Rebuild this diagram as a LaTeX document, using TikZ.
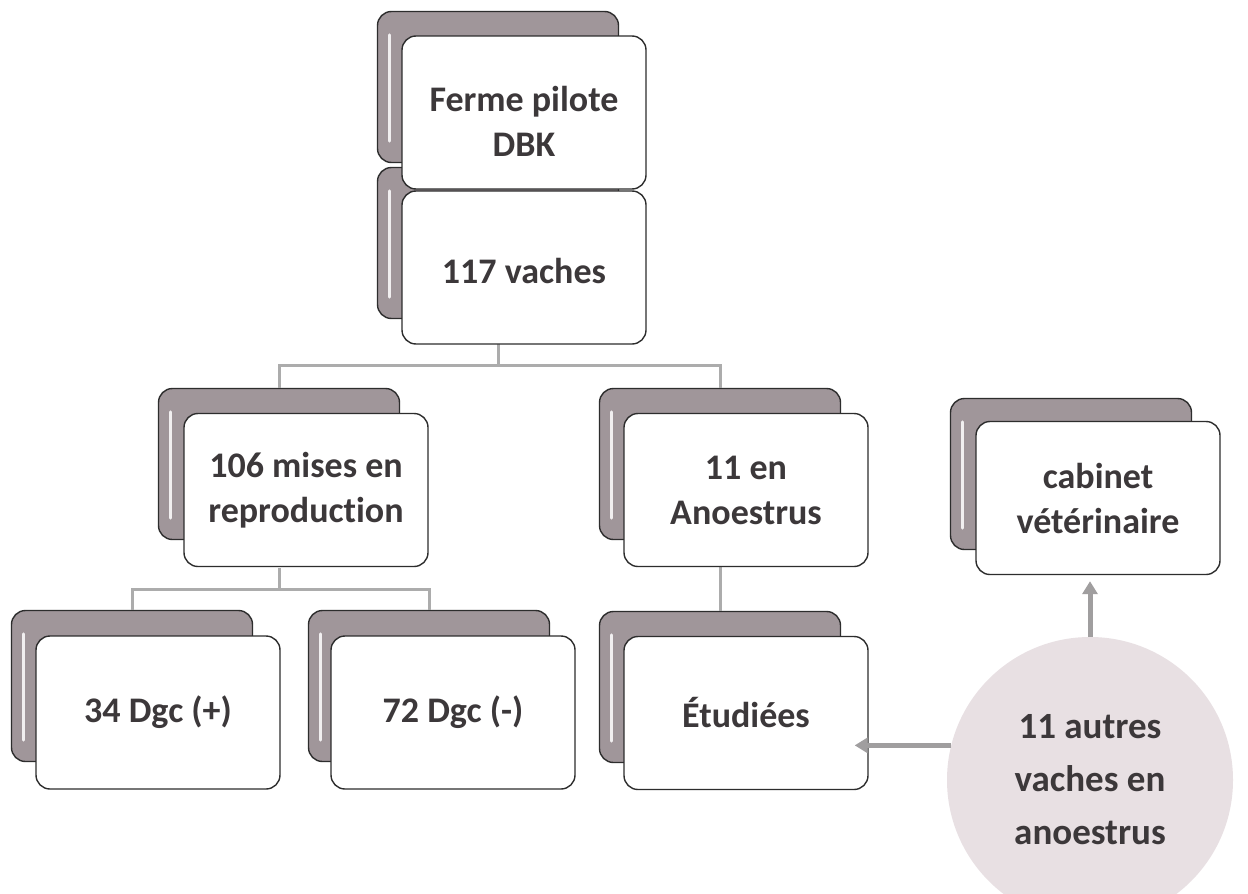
\documentclass[tikz,border=0pt]{standalone}
\usepackage{fontspec}
\setmainfont{Carlito}[Ligatures=NoCommon]
\usetikzlibrary{arrows.meta}
\definecolor{txt}{RGB}{60,56,58}
\definecolor{backfill}{RGB}{160,150,154}
\definecolor{edge}{RGB}{45,45,45}
\definecolor{connc}{RGB}{172,172,172}
\definecolor{arrc}{RGB}{160,158,159}
\definecolor{circc}{RGB}{232,224,227}
\begin{document}
\begin{tikzpicture}[x=1pt,y=-1pt,
  front/.style={draw=edge, line width=1.4pt, fill=white, rounded corners=14pt,
    minimum width=244pt, minimum height=153pt, inner sep=0pt, align=center,
    text=txt, font=\fontsize{36}{45}\selectfont\bfseries},
  boxtext/.style={inner sep=0pt, align=center, text=txt, font=\fontsize{36}{45}\selectfont\bfseries},
  backbox/.style={draw=edge, line width=1.4pt, fill=backfill, rounded corners=14pt,
    minimum width=241pt, minimum height=151pt, inner sep=0pt},
  hilite/.style={draw=white!85!backfill, line width=3pt, line cap=round},
  connector/.style={draw=connc, line width=3pt},
  arrowline/.style={draw=arrc, line width=5pt, -{Triangle[width=15pt,length=13pt]}},
  bubble/.style={circle, fill=circc, minimum size=286pt, inner sep=0pt, align=center,
    text=txt, font=\fontsize{37}{53}\selectfont\bfseries}
]
\useasboundingbox (0,0) rectangle (1248,894);
\fill[white] (0,0) rectangle (1248,894);

% back boxes
\node[backbox] (fermeB) at (498,87) {};
\node[backbox] (vachesB) at (498,243) {};
\node[backbox] (miseB) at (279,464) {};
\node[backbox] (anoeB) at (720,464) {};
\node[backbox] (etudB) at (720,687) {};
\node[backbox] (dgcpB) at (132,686) {};
\node[backbox] (dgcmB) at (429,686) {};
\node[backbox] (cabB) at (1071,474) {};
\foreach \n in {fermeB,vachesB,miseB,anoeB,etudB,dgcpB,dgcmB,cabB}
  \draw[hilite] ([shift={(13pt,-24pt)}]\n.north west) -- ([shift={(13pt,22pt)}]\n.south west);

% connectors
\draw[connector] (vachesB.south |- 0,343) -- (vachesB.south |- 0,365) coordinate (j1);
\draw[connector] (j1) -| (miseB.north);
\draw[connector] (j1) -| (anoeB.north);
\draw[connector] (miseB.south |- 0,568) -- (miseB.south |- 0,589) coordinate (j2);
\draw[connector] (j2) -| (dgcpB.north);
\draw[connector] (j2) -| (dgcmB.north);
\draw[connector] (anoeB.south |- 0,567) -- (etudB.north);

% front boxes
\node[front] (ferme) at (524,112.5) {};
\node[boxtext] (fermeT) at (524,121) {Ferme pilote\\DBK};
\node[front] (vaches) at (524,267.5) {};
\node[boxtext] (vachesT) at (524,271) {117 vaches};
\node[front] (mise) at (306,490) {106 mises en\\reproduction};
\node[front] (anoe) at (746,490) {11 en\\Anoestrus};
\node[front] (etud) at (746,713) {Étudiées};
\node[front] (dgcp) at (158,712.5) {34 Dgc (+)};
\node[front] (dgcm) at (453,712.5) {72 Dgc (-)};
\node[front] (cab) at (1098,498) {cabinet\\vétérinaire};

% circle and arrows
\node[bubble] (autres) at (1090,780) {11 autres\\vaches en\\anoestrus};
\draw[arrowline, shorten >=6pt] (autres.north) -- (autres.north |- cab.south);
\draw[arrowline, shorten >=-14pt] (autres.166) -- (autres.166 -| etud.east);
\end{tikzpicture}
\end{document}
